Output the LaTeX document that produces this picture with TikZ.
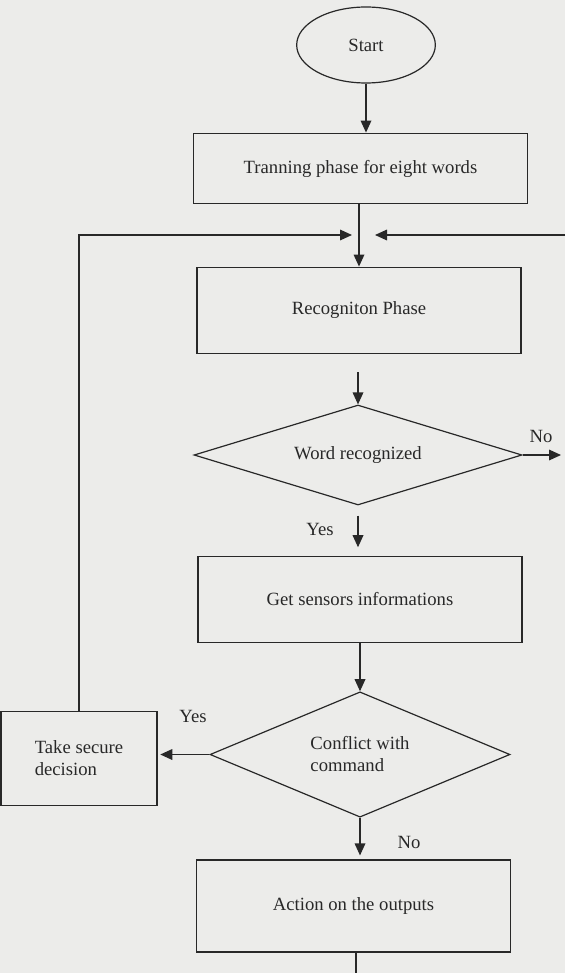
\documentclass[tikz,border=0pt]{standalone}
\usepackage{fontspec}
\setmainfont{Liberation Serif}
\usetikzlibrary{shapes.geometric,arrows.meta}

\definecolor{pagegray}{RGB}{236,236,234}
\definecolor{inkgray}{RGB}{40,40,40}

\begin{document}
\begin{tikzpicture}[x=0.75pt,y=0.75pt,yscale=-1,xscale=1,
    every node/.style={font=\fontsize{14}{16.5}\selectfont,text=inkgray},
    stepbox/.style={draw=inkgray,line width=0.9pt,rectangle,inner sep=0pt},
    testbox/.style={draw=inkgray,line width=0.9pt,diamond,inner sep=0pt,aspect=2.6},
    flow/.style={draw=inkgray,line width=0.9pt,-{Triangle[length=9pt,width=8pt]}},
    wire/.style={draw=inkgray,line width=0.9pt}]
        %set diagram page: width 565, height 973
        \fill [pagegray] (0,0) rectangle (565,973);
        \useasboundingbox (0,0) rectangle (565,973);

        % Start Node
        \node (start) at (366,45) [ellipse,draw=inkgray,line width=0.9pt,minimum width=104pt,minimum height=57pt] {Start};
        % Training Node
        \node (train) at (360.5,168.5) [stepbox,minimum width=251pt,minimum height=53pt] {Tranning phase for eight words};
        % Recognition Node
        \node (recog) at (359,310.5) [stepbox,minimum width=243pt,minimum height=65pt] {Recogniton Phase};
        % Decision Node
        \node (word) at (358,455) [testbox,aspect=3.3,minimum width=246pt,minimum height=75pt] {Word recognized};
        % Sensors Node
        \node (sensors) at (360,599.5) [stepbox,minimum width=243pt,minimum height=64pt] {Get sensors informations};
        % Decision Node
        \node (conflict) at (360,754.5) [testbox,minimum width=225pt,minimum height=94pt,align=left] {Conflict with\\command};
        % Secure Node
        \node (secure) at (79,758.5) [stepbox,minimum width=117pt,minimum height=71pt,align=left] {Take secure\\decision};
        % Outputs Node
        \node (action) at (353.5,906) [stepbox,minimum width=236pt,minimum height=69pt] {Action on the outputs};

        % Loose ends
        \coordinate (entryL) at (352,235);
        \coordinate (entryR) at (375,235);
        \coordinate (loopR) at (565,235);
        \coordinate (noEnd) at (561,455);
        \coordinate (exit) at (356,973);

        % Straight Lines
        \draw [flow] (start.south) -- (start.south |- train.north);
        \draw [flow] (train.south -| recog.north) -- (recog.north);
        \draw [flow] (secure.north) |- (entryL);
        \draw [flow] (loopR) -- (entryR);
        \draw [flow,shorten <=13.5pt] (recog.south -| word.north) -- (word.north);
        \draw [flow] (word.east) -- (noEnd);
        \draw [flow,shorten <=7.5pt,shorten >=6.75pt] (word.south) -- (word.south |- sensors.north);
        \draw [flow] (sensors.south -| conflict.north) -- (conflict.north);
        \draw [flow,shorten >=2pt] (conflict.west) -- (conflict.west -| secure.east);
        \draw [flow,shorten >=3pt] (conflict.south) -- (conflict.south |- action.north);
        \draw [wire] (action.south -| exit) -- (exit);

        % Text Node
        \node (noA) at (541,436) {No};
        % Text Node
        \node (yesA) at (320,529) {Yes};
        % Text Node
        \node (yesB) at (193,716) {Yes};
        % Text Node
        \node (noB) at (409,842) {No};

\end{tikzpicture}
\end{document}
